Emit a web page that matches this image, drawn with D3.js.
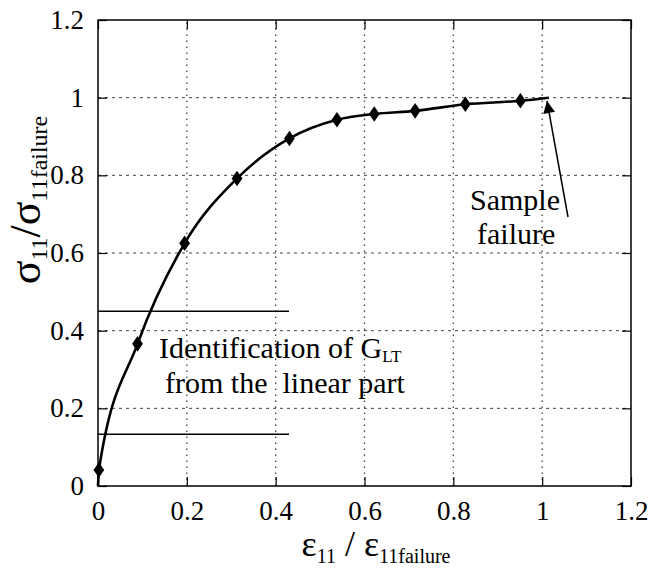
<!DOCTYPE html>
<html>
<head>
<meta charset="utf-8">
<script src="https://cdn.jsdelivr.net/npm/d3@7"></script>
<style>
  body { margin: 0; background: #fff; }
  text { font-family: "Liberation Serif", "Times New Roman", serif; fill: #000; }
</style>
</head>
<body>
<div id="chart"></div>
<script>

// measured points (diamonds)
var strain = [0.002, 0.089, 0.195, 0.313, 0.431, 0.538, 0.622, 0.714, 0.827, 0.951];
var stress = [0.041, 0.366, 0.625, 0.792, 0.895, 0.943, 0.958, 0.966, 0.983, 0.992];

// curve start / end (origin and failure point)
var curveStart = [0, 0];
var curveEnd = [1.015, 1.0];

var xTicks = [0, 0.2, 0.4, 0.6, 0.8, 1, 1.2];
var yTicks = [0, 0.2, 0.4, 0.6, 0.8, 1, 1.2];
var gridVals = [0.2, 0.4, 0.6, 0.8, 1];

// horizontal lines marking the linear part
var linearBounds = [0.133, 0.45];
var linearEndX = 0.43;

function drawChart() {
    var w = 648, h = 576;
    var mLeft = 98, mRight = 631, mTop = 20, mBottom = 486;

    var svg = d3.select('#chart').append('svg')
        .attr('width', w)
        .attr('height', h);

    var x = d3.scaleLinear().domain([0, 1.2]).range([mLeft, mRight]);
    var y = d3.scaleLinear().domain([0, 1.2]).range([mBottom, mTop]);

    var minor = d3.range(0, 1.2001, 0.05);

    // grid
    svg.selectAll('line.vgrid')
        .data(gridVals)
        .enter()
        .append('line')
        .attr('class', 'vgrid')
        .attr('x1', function(d) { return x(d); })
        .attr('x2', function(d) { return x(d); })
        .attr('y1', mBottom)
        .attr('y2', mTop)
        .attr('stroke', '#444')
        .attr('stroke-width', 1.3)
        .attr('stroke-dasharray', '1.5,4.5');

    svg.selectAll('line.hgrid')
        .data(gridVals)
        .enter()
        .append('line')
        .attr('class', 'hgrid')
        .attr('x1', mLeft)
        .attr('x2', mRight)
        .attr('y1', function(d) { return y(d); })
        .attr('y2', function(d) { return y(d); })
        .attr('stroke', '#444')
        .attr('stroke-width', 1)
        .attr('stroke-dasharray', '3,4');

    // axes, ticks pointing inward on all 4 sides
    function tickAxis(axis, major, vals) {
        return axis.tickValues(major ? vals : minor)
            .tickSize(major ? -9 : -5)
            .tickFormat(major ? d3.format('') : '')
            .tickPadding(14);
    }

    var gBottom = svg.append('g')
        .attr('transform', 'translate(0,' + mBottom + ')');
    gBottom.call(tickAxis(d3.axisBottom(x), false));
    gBottom.call(tickAxis(d3.axisBottom(x), true, xTicks));

    var gTop = svg.append('g')
        .attr('transform', 'translate(0,' + mTop + ')');
    gTop.call(tickAxis(d3.axisTop(x), false));
    gTop.call(tickAxis(d3.axisTop(x), true, xTicks).tickFormat(''));

    var gLeft = svg.append('g')
        .attr('transform', 'translate(' + mLeft + ',0)');
    gLeft.call(tickAxis(d3.axisLeft(y), false));
    gLeft.call(tickAxis(d3.axisLeft(y), true, yTicks));

    var gRight = svg.append('g')
        .attr('transform', 'translate(' + mRight + ',0)');
    gRight.call(tickAxis(d3.axisRight(y), false));
    gRight.call(tickAxis(d3.axisRight(y), true, yTicks).tickFormat(''));

    svg.selectAll('.domain').remove();
    svg.selectAll('.tick line').attr('stroke', '#000').attr('stroke-width', 1.2);
    svg.selectAll('.tick text')
        .attr('font-size', '27px')
        .attr('fill', '#000');
    gBottom.selectAll('.tick text').attr('dy', '0.75em');

    // frame
    svg.append('rect')
        .attr('x', mLeft)
        .attr('y', mTop)
        .attr('width', mRight - mLeft)
        .attr('height', mBottom - mTop)
        .attr('fill', 'none')
        .attr('stroke', '#000')
        .attr('stroke-width', 1.5);

    // linear part markers
    svg.selectAll('line.bound')
        .data(linearBounds)
        .enter()
        .append('line')
        .attr('class', 'bound')
        .attr('x1', x(0))
        .attr('x2', x(linearEndX))
        .attr('y1', function(d) { return y(d); })
        .attr('y2', function(d) { return y(d); })
        .attr('stroke', '#000')
        .attr('stroke-width', 1.5);

    // curve
    var pts = [curveStart].concat(strain.map(function(d, i) { return [d, stress[i]]; })).concat([curveEnd]);
    var line = d3.line()
        .x(function(d) { return x(d[0]); })
        .y(function(d) { return y(d[1]); })
        .curve(d3.curveMonotoneX);

    svg.append('path')
        .datum(pts)
        .attr('d', line)
        .attr('fill', 'none')
        .attr('stroke', '#000')
        .attr('stroke-width', 2.6);

    svg.selectAll('path.pt')
        .data(strain)
        .enter()
        .append('path')
        .attr('class', 'pt')
        .attr('d', d3.symbol().type(d3.symbolDiamond).size(70))
        .attr('transform', function(d, i) {
            return 'translate(' + x(d) + ',' + y(stress[i]) + ') scale(1.2,1)';
        })
        .attr('fill', '#000');

    // annotations
    var ann = svg.append('text')
        .attr('x', 159)
        .attr('y', 358)
        .attr('font-size', '30px');
    ann.append('tspan').text('Identification of G');
    ann.append('tspan').attr('font-size', '17px').attr('dy', 4).text('LT');

    svg.append('text')
        .attr('x', 165)
        .attr('y', 393)
        .attr('font-size', '30px')
        .attr('xml:space', 'preserve')
        .text('from the  linear part');

    svg.append('text')
        .attr('x', 470)
        .attr('y', 210)
        .attr('font-size', '30px')
        .text('Sample');
    svg.append('text')
        .attr('x', 477)
        .attr('y', 244)
        .attr('font-size', '30px')
        .text('failure');

    // arrow to failure point
    svg.append('defs').append('marker')
        .attr('id', 'arr')
        .attr('viewBox', '0 0 10 10')
        .attr('refX', 10)
        .attr('refY', 5)
        .attr('markerWidth', 16)
        .attr('markerHeight', 12)
        .attr('markerUnits', 'userSpaceOnUse')
        .attr('orient', 'auto')
        .append('path')
        .attr('d', 'M0,0 L10,5 L0,10 z')
        .attr('fill', '#000');

    svg.append('line')
        .attr('x1', 568)
        .attr('y1', 217)
        .attr('x2', 547)
        .attr('y2', 101)
        .attr('stroke', '#000')
        .attr('stroke-width', 1.5)
        .attr('marker-end', 'url(#arr)');

    // axis titles
    var yl = svg.append('text')
        .attr('transform', 'translate(40,' + 200 + ') rotate(-90)')
        .attr('text-anchor', 'middle');
    yl.append('tspan').attr('font-size', '44px').text('σ');
    yl.append('tspan').attr('font-size', '24px').attr('dy', 7).text('11');
    yl.append('tspan').attr('font-size', '44px').attr('dy', -7).text('/σ');
    yl.append('tspan').attr('font-size', '24px').attr('dy', 7).text('11failure');

    var xl = svg.append('text')
        .attr('x', 376)
        .attr('y', 556)
        .attr('text-anchor', 'middle');
    xl.append('tspan').attr('font-size', '36px').text('ε');
    xl.append('tspan').attr('font-size', '20px').attr('dy', 7).text('11');
    xl.append('tspan').attr('font-size', '36px').attr('dy', -7).text(' / ε');
    xl.append('tspan').attr('font-size', '20px').attr('dy', 7).text('11failure');
}

drawChart();

</script>
</body>
</html>
